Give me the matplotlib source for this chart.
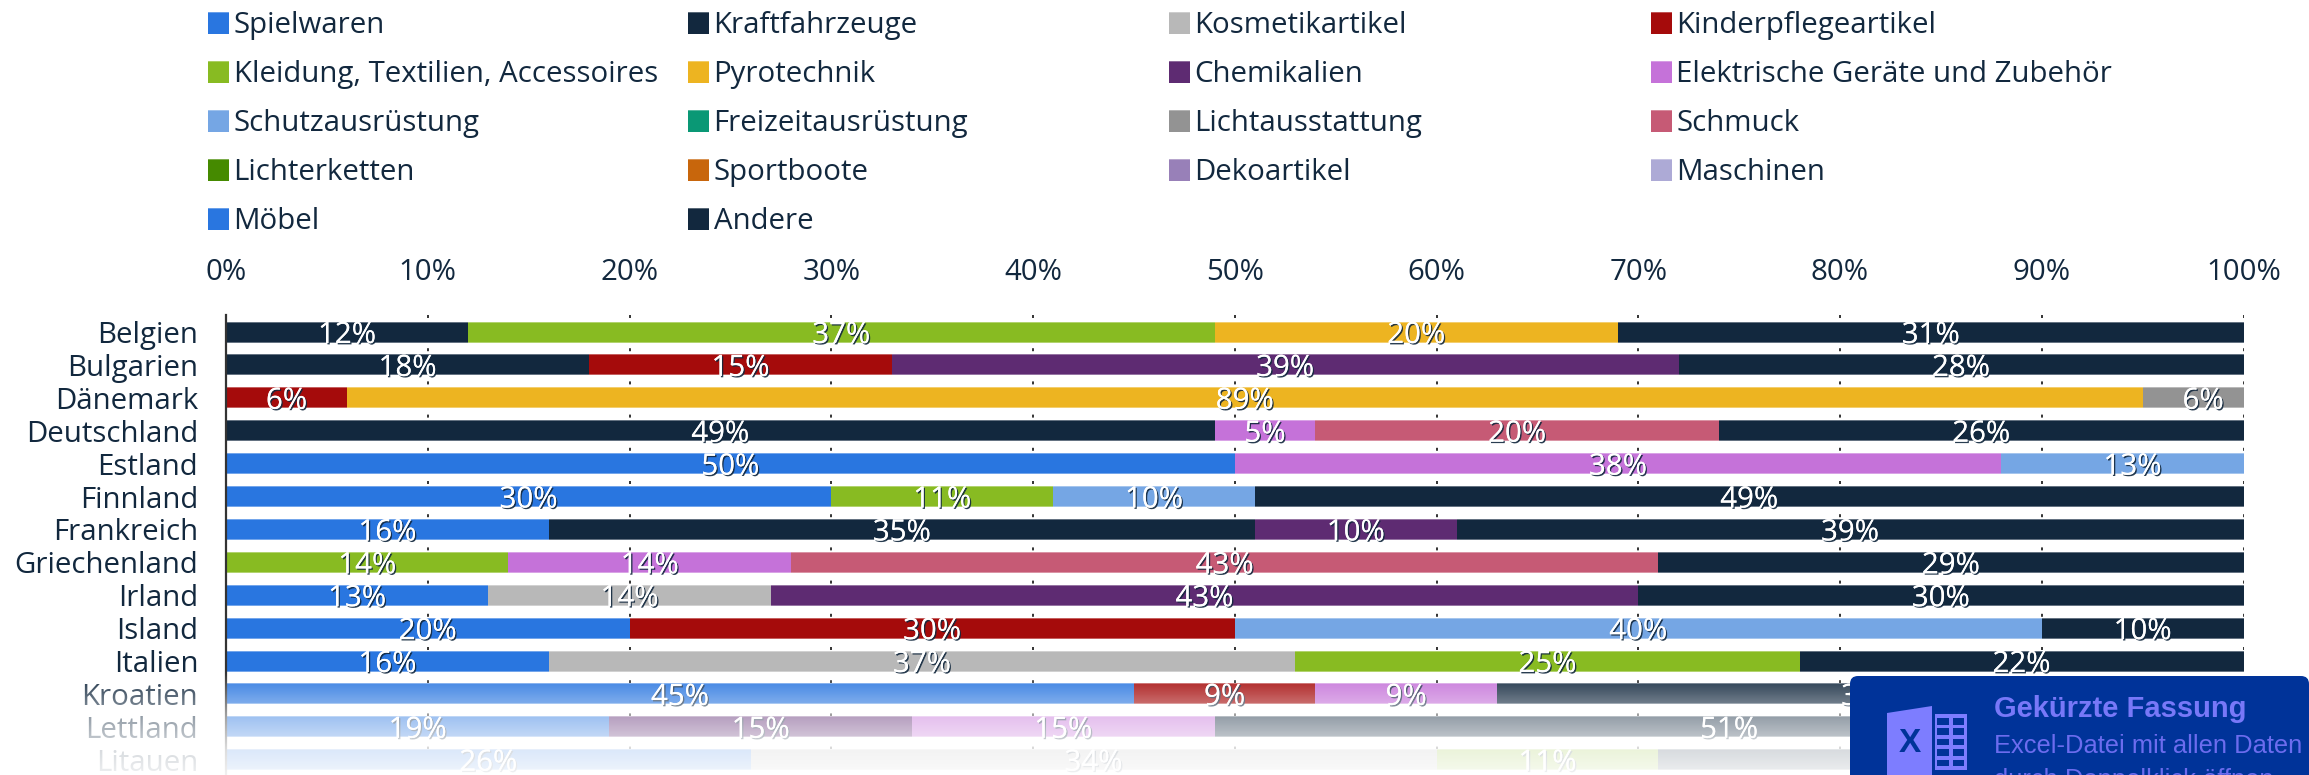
import matplotlib
matplotlib.use('Agg')
import matplotlib.pyplot as plt
import matplotlib.patheffects as pe
from matplotlib.patches import FancyBboxPatch, Polygon, Rectangle
import numpy as np

plt.rcParams['font.family'] = ['Open Sans', 'DejaVu Sans']
plt.rcParams['lines.scale_dashes'] = False

countries = ['Belgien', 'Bulgarien', 'Dänemark', 'Deutschland', 'Estland', 'Finnland', 'Frankreich',
             'Griechenland', 'Irland', 'Island', 'Italien', 'Kroatien', 'Lettland', 'Litauen']

series_names = ['Spielwaren', 'Kraftfahrzeuge', 'Kosmetikartikel', 'Kinderpflegeartikel',
                'Kleidung, Textilien, Accessoires', 'Pyrotechnik', 'Chemikalien', 'Elektrische Geräte und Zubehör',
                'Schutzausrüstung', 'Freizeitausrüstung', 'Lichtausstattung', 'Schmuck',
                'Lichterketten', 'Sportboote', 'Dekoartikel', 'Maschinen',
                'Möbel', 'Andere']
series_colors = ['#2976e0', '#12283e', '#b8b8b8', '#a50b0b',
                 '#88bb22', '#edb421', '#5e2b72', '#c572d9',
                 '#75a6e4', '#0a9875', '#939393', '#c65a75',
                 '#458a00', '#c8660c', '#9880b8', '#adaad6',
                 '#2976e0', '#12283e']

spielwaren      = [0, 0, 0, 0, 50, 30, 16, 0, 13, 20, 16, 45, 19, 26]
kraftfahrzeuge  = [12, 18, 0, 49, 0, 0, 35, 0, 0, 0, 0, 0, 0, 0]
kosmetik        = [0, 0, 0, 0, 0, 0, 0, 0, 14, 0, 37, 0, 0, 34]
kinderpflege    = [0, 15, 6, 0, 0, 0, 0, 0, 0, 30, 0, 9, 0, 0]
kleidung        = [37, 0, 0, 0, 0, 11, 0, 14, 0, 0, 25, 0, 0, 11]
pyrotechnik     = [20, 0, 89, 0, 0, 0, 0, 0, 0, 0, 0, 0, 0, 0]
chemikalien     = [0, 39, 0, 0, 0, 0, 10, 0, 43, 0, 0, 0, 15, 0]
elektrisch      = [0, 0, 0, 5, 38, 0, 0, 14, 0, 0, 0, 9, 15, 0]
schutz          = [0, 0, 0, 0, 13, 10, 0, 0, 0, 40, 0, 0, 0, 0]
freizeit        = [0] * 14
licht           = [0, 0, 6, 0, 0, 0, 0, 0, 0, 0, 0, 0, 0, 0]
schmuck         = [0, 0, 0, 20, 0, 0, 0, 43, 0, 0, 0, 0, 0, 0]
lichterketten   = [0] * 14
sportboote      = [0] * 14
deko            = [0] * 14
maschinen       = [0] * 14
moebel          = [0] * 14
andere          = [31, 28, 0, 26, 0, 49, 39, 29, 30, 10, 22, 37, 51, 29]

series_values = [spielwaren, kraftfahrzeuge, kosmetik, kinderpflege, kleidung, pyrotechnik, chemikalien,
                 elektrisch, schutz, freizeit, licht, schmuck, lichterketten, sportboote, deko, maschinen,
                 moebel, andere]

x_ticks = [0, 10, 20, 30, 40, 50, 60, 70, 80, 90, 100]

W, H = 2309, 775
TEXT = '#12283e'
FS = 21.2
fig = plt.figure(figsize=(W / 100, H / 100), dpi=100, facecolor='white')

ax = fig.add_axes([226 / W, 0, 2017.5 / W, (H - 315) / H])
ax.set_xlim(0, 100)
ax.set_ylim(13.465, -0.517)
ax.set_axisbelow(True)

pos = np.arange(len(countries))
left = np.zeros(len(countries))
shadow = [pe.withSimplePatchShadow(offset=(1, -1), shadow_rgbFace=TEXT, alpha=0.9), pe.Normal()]
for name, color, vals in zip(series_names, series_colors, series_values):
    vals = np.array(vals, dtype=float)
    mask = vals > 0
    if mask.any():
        rim = tuple(0.65 * c + 0.35 for c in matplotlib.colors.to_rgb(color))
        ax.barh(pos[mask], vals[mask], left=left[mask], height=21 / 32.9, color=rim, zorder=2)
        ax.barh(pos[mask], vals[mask], left=left[mask], height=19 / 32.9, color=color, zorder=2.1)
        for p, l, v in zip(pos[mask], left[mask], vals[mask]):
            ax.text(l + v / 2, p, f'{int(v)}%', ha='center', va='center_baseline', color='white',
                    fontsize=FS, zorder=3, path_effects=shadow, clip_on=False)
    left += vals

ax.set_yticks(pos, countries)
ax.set_xticks(x_ticks, [f'{t}%' for t in x_ticks])
ax.xaxis.tick_top()
ax.tick_params(axis='both', length=0, labelsize=FS, labelcolor=TEXT)
ax.tick_params(axis='x', pad=20)
ax.tick_params(axis='y', pad=20)
ax.grid(axis='x', color='#333333', linewidth=1.4, linestyle=(7.8 * 0.72, (3 * 0.72, 30.2 * 0.72)), zorder=1)
for s in ['top', 'right', 'bottom']:
    ax.spines[s].set_visible(False)
ax.spines['left'].set_color('#333333')
ax.spines['left'].set_linewidth(1.6)

# layer in pixel coordinates: legend, fade at the bottom, download box
top = fig.add_axes([0, 0, 1, 1], zorder=5)
top.patch.set_alpha(0)
top.axis('off')

col_x = [208, 688, 1169, 1651]
for i, (name, color) in enumerate(zip(series_names, series_colors)):
    x0, y0 = col_x[i % 4], 12 + (i // 4) * 49.1
    rim = tuple(0.7 * c + 0.3 for c in matplotlib.colors.to_rgb(color))
    top.add_patch(Rectangle((x0, y0), 21, 22, color=rim, lw=0))
    top.add_patch(Rectangle((x0, y0 + 1), 21, 21, color=color, lw=0))
    top.text(x0 + 25.5, y0 + 21, name, color=TEXT, fontsize=FS, va='baseline', ha='left')

fade_y = np.arange(665, H)
fade_a = np.interp(fade_y, [672, 684, 704, 717, 737, 750, 775], [0, 0.17, 0.41, 0.56, 0.73, 0.84, 0.94])
fade = np.ones((len(fade_y), 1, 4))
fade[:, 0, 3] = fade_a
top.imshow(fade, extent=(0, W, H, 665), aspect='auto', zorder=1)

BOX = '#003399'
ICON = '#7d7dff'
top.add_patch(FancyBboxPatch((1850, 676), W - 1850, 140, boxstyle='round,pad=0,rounding_size=8',
                             fc=BOX, ec='none', zorder=2, clip_on=True))
top.add_patch(Polygon([(1887, 713), (1932, 706), (1932, 788), (1887, 781)], fc=ICON, ec='none', zorder=3))
top.add_patch(Rectangle((1935, 714), 32, 56, fc=ICON, ec='none', zorder=3))
for r in range(5):
    for c in range(2):
        top.add_patch(Rectangle((1937 + c * 16, 718 + r * 10.4), 12 if c == 0 else 11, 6.5, fc=BOX, ec='none', zorder=4))
top.text(1910, 743, 'X', color=BOX, fontsize=24, fontweight='bold', family='Liberation Sans',
         ha='center', va='center', zorder=4)
top.text(1994, 717, 'Gekürzte Fassung', color='#7878f8', fontsize=21, fontweight='bold',
         family='Liberation Sans', ha='left', va='baseline', zorder=4)
top.text(1994, 753, 'Excel-Datei mit allen Daten', color='#6c6cee', fontsize=18.4,
         family='Liberation Sans', ha='left', va='baseline', zorder=4)
top.text(1994, 787, 'durch Doppelklick öffnen', color='#6c6cee', fontsize=18.4,
         family='Liberation Sans', ha='left', va='baseline', zorder=4)
top.set_xlim(0, W)
top.set_ylim(H, 0)

fig.savefig('out.png', dpi=100)
